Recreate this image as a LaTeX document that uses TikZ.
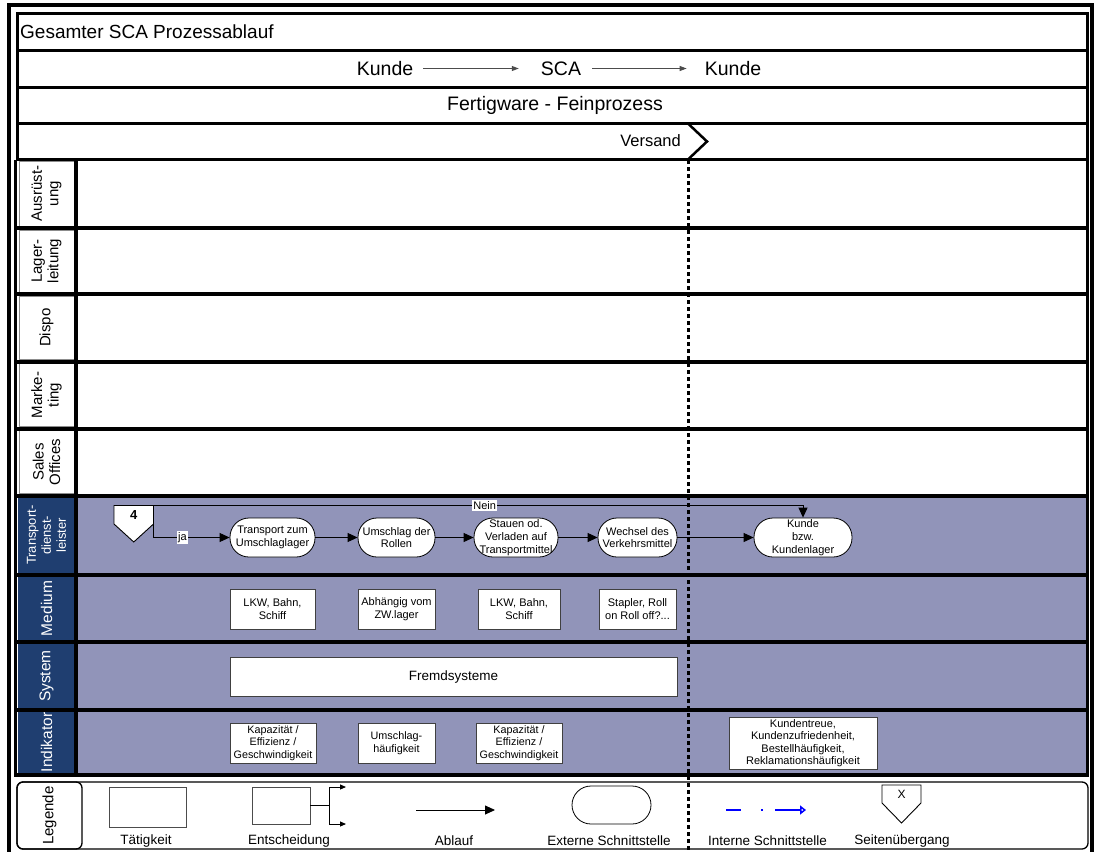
\documentclass[tikz,border=0pt]{standalone}
\usepackage{fontspec}
\setmainfont{Liberation Sans}
\usetikzlibrary{arrows.meta}

\definecolor{bahnBlau}{RGB}{31,62,112}
\definecolor{bahnFlieder}{RGB}{145,148,185}
\newcommand{\schrift}[2]{\fontsize{#1}{#2}\selectfont}

\tikzset{
  zeile/.style={draw, line width=3pt},
  prozess/.style={draw, fill=white, line width=0.8pt, rounded corners=19pt, minimum height=39pt, inner sep=0pt, align=center, font=\schrift{11}{12.7}},
  infoBox/.style={draw=black!75, fill=white, line width=0.8pt, inner sep=0pt, align=center, font=\schrift{11}{12.5}},
  ablauf/.style={line width=0.9pt, -{Triangle[length=10pt,width=9pt]}},
  klein/.style={line width=0.9pt, -{Triangle[length=6pt,width=5pt]}},
  kopfPfeil/.style={draw=black!70, line width=1pt, -{Triangle[length=7pt,width=5pt]}},
  bahnText/.style={rotate=90, align=center, font=\schrift{15}{16.5}},
  marke/.style={fill=white, inner sep=1pt, font=\schrift{11}{12}},
  legText/.style={font=\schrift{13.5}{15}},
  kopf/.style={inner sep=0pt, font=\schrift{19.5}{22}},
}

\begin{document}
\begin{tikzpicture}[x=1pt,y=-1pt]
\useasboundingbox (0,0) rectangle (1094,851);
\fill[white] (0,0) rectangle (1094,851);

% Rahmen
\draw[line width=3.5pt] (9,860) -- (9,5) -- (1092,5) -- (1092,860);

% Kopfzeilen
\foreach \ya/\yb in {14/50.5, 50.5/87, 87/123, 123/159.5}
  \draw[zeile] (17.5,\ya) rectangle (1087.5,\yb);
\node[anchor=west, inner sep=0pt, font=\schrift{19}{22}] (titel) at (20,31.5) {Gesamter SCA Prozessablauf};
\node[kopf] (kunde1) at (385,68.5) {Kunde};
\node[kopf] (sca) at (561,68.5) {SCA};
\node[kopf] (kunde2) at (733,68.5) {Kunde};
\draw[kopfPfeil, shorten <=10pt, shorten >=22pt] (kunde1.east) -- (sca.west);
\draw[kopfPfeil, shorten <=11pt, shorten >=18pt] (sca.east) -- (kunde2.west);
\node[kopf] (fertigware) at (555,105) {Fertigware - Feinprozess};
\node[anchor=east, inner sep=0pt, font=\schrift{16.5}{18}] (versand) at (681,141) {Versand};
\draw[line width=2.5pt] (688.5,124) -- (707,141.5) -- (688.5,159);

% obere Bahnen
\foreach \ya/\yb/\txt [count=\i] in {159.5/228/{Ausrüst-\\ung}, 228/294/{Lager-\\leitung}, 294/361.5/Dispo, 361.5/428.5/{Marke-\\ting}, 428.5/495.5/{Sales\\Offices}}{
  \draw[draw=black!45, fill=white] (19,{\ya+2}) rectangle (74,{\yb-2});
  \node[bahnText] (bahnO\i) at (46.5,{(\ya+\yb)/2}) {\txt};
}
% untere Bahnen
\foreach \ya/\yb/\txt/\fsz [count=\i] in {495.5/575/{Transport-\\dienst-\\leister}/13, 575/642/Medium/15.5, 642/710/System/15.5, 710/775/Indikator/15.5}{
  \fill[bahnFlieder] (78,\ya) rectangle (1086,\yb);
  \fill[bahnBlau] (18,{\ya+2}) rectangle (74,{\yb-2});
  \node[bahnText, text=white, font=\schrift{\fsz}{15}] (bahnU\i) at (46.5,{(\ya+\yb)/2}) {\txt};
}
\foreach \y in {228,294,361.5,428.5,495.5,575,642,710,775}
  \draw[line width=4pt] (15,\y) -- (1088,\y);
\draw[line width=3pt] (15.5,159.5) -- (15.5,777);
\draw[line width=4pt] (76,159.5) -- (76,777);
\draw[line width=3pt] (1087.5,159.5) -- (1087.5,777);

% Transportdienstleister
\draw[fill=white, line width=0.9pt] (114,505.5) -- (153.5,505.5) -- (153.5,524) -- (133.75,542) -- (114,524) -- cycle;
\node[font=\bfseries\schrift{13}{14}] (seite4) at (133.75,515) {4};
\coordinate (seite4Ecke) at (153.5,505.5);

\node[prozess, minimum width=85pt] (transportZum) at (272.5,537.5) {Transport zum\\Umschlaglager};
\node[prozess, minimum width=77pt] (umschlag) at (396.5,537.5) {Umschlag der\\Rollen};
\node[prozess, minimum width=84pt] (stauen) at (516,537.5) {Stauen od.\\Verladen auf\\Transportmittel};
\node[prozess, minimum width=79pt] (wechsel) at (637.5,537.5) {Wechsel des\\Verkehrsmittel};
\node[prozess, minimum width=98pt] (kundenlager) at (803,537.5) {Kunde\\bzw.\\Kundenlager};

\draw[ablauf] (seite4Ecke) |- node[marke, pos=0.69] (ja) {ja} (transportZum.west);
\draw[ablauf] (seite4Ecke) -- node[marke, pos=0.51] (nein) {Nein} (seite4Ecke -| kundenlager.north) -- (kundenlager.north);
\draw[ablauf] (transportZum) -- (umschlag);
\draw[ablauf] (umschlag) -- (stauen);
\draw[ablauf] (stauen) -- (wechsel);
\draw[ablauf] (wechsel) -- (kundenlager);

% Medium
\node[infoBox, minimum width=85pt, minimum height=40pt] (lkw1) at (272.5,609) {LKW, Bahn,\\Schiff};
\node[infoBox, minimum width=77pt, minimum height=40pt] (abhaengig) at (396.5,609) {Abhängig vom\\ZW.lager};
\node[infoBox, minimum width=82pt, minimum height=40pt] (lkw2) at (519,609) {LKW, Bahn,\\Schiff};
\node[infoBox, minimum width=77pt, minimum height=40pt] (stapler) at (637.5,609) {Stapler, Roll\\on Roll off?...};

% System
\node[infoBox, minimum width=447pt, minimum height=39pt, font=\schrift{13.5}{15}] (fremd) at (453.5,676.5) {Fremdsysteme};

% Indikator
\node[infoBox, minimum width=86pt, minimum height=40pt, font=\schrift{10.8}{12.5}] (kap1) at (273,743) {Kapazität /\\Effizienz /\\Geschwindigkeit};
\node[infoBox, minimum width=77pt, minimum height=40pt, font=\schrift{10.8}{12.7}] (umschlHaeuf) at (396.5,743) {Umschlag-\\häufigkeit};
\node[infoBox, minimum width=86pt, minimum height=40pt, font=\schrift{10.8}{12.5}] (kap2) at (519,743) {Kapazität /\\Effizienz /\\Geschwindigkeit};
\node[infoBox, minimum width=148pt, minimum height=52pt] (kundentreue) at (803,743) {Kundentreue,\\Kundenzufriedenheit,\\Bestellhäufigkeit,\\Reklamationshäufigkeit};

% Legende
\draw[rounded corners=6pt, line width=1.3pt] (17,782) rectangle (1088,849);
\draw[rounded corners=6pt, line width=1.3pt] (17,782) rectangle (82,849);
\node[rotate=90, font=\schrift{15}{16}] (legende) at (49.5,815.5) {Legende};

\node[draw=black!70, line width=0.8pt, minimum width=77pt, minimum height=40pt] (lgTaetig) at (147.5,807) {};
\node[legText] (lgTaetigTxt) at (146,841) {Tätigkeit};

\node[draw=black!70, line width=0.8pt, minimum width=58pt, minimum height=37pt] (lgEntsch) at (281,805.5) {};
\coordinate (lgGabel) at (329,805.5);
\coordinate (lgOben) at (346,787);
\coordinate (lgUnten) at (346,824);
\draw[line width=0.9pt] (lgEntsch.east) -- (lgGabel);
\draw[klein] (lgGabel) |- (lgOben);
\draw[klein] (lgGabel) |- (lgUnten);
\node[legText] (lgEntschTxt) at (289,841) {Entscheidung};

\coordinate (lgAblauf1) at (416,810);
\coordinate (lgAblauf2) at (495,810);
\draw[ablauf] (lgAblauf1) -- (lgAblauf2);
\node[legText] (lgAblaufTxt) at (454,841) {Ablauf};

\node[prozess, minimum width=79pt, minimum height=38pt] (lgExtern) at (611.5,805) {};
\node[legText] (lgExternTxt) at (609,841) {Externe Schnittstelle};

\coordinate (lgIntern1) at (726,810);
\coordinate (lgIntern2) at (806,810);
\draw[blue, line width=2.5pt, dash pattern=on 15pt off 20pt on 2pt off 12pt on 40pt, -{Triangle[open,length=6pt,width=9pt]}] (lgIntern1) -- (lgIntern2);
\node[legText] (lgInternTxt) at (767.5,841) {Interne Schnittstelle};

\draw[fill=white, line width=0.9pt] (882,785) -- (921,785) -- (921,803) -- (901.5,823) -- (882,803) -- cycle;
\node[font=\schrift{12}{13}] (lgSeite) at (901.5,794) {X};
\node[legText] (lgSeiteTxt) at (902,841) {Seitenübergang};

% Grenze Versand
\coordinate (grenzeOben) at (688.5,160);
\coordinate (grenzeUnten) at (688.5,851);
\draw[line width=3pt, dash pattern=on 4pt off 3pt] (grenzeOben) -- (grenzeUnten);
\end{tikzpicture}
\end{document}
